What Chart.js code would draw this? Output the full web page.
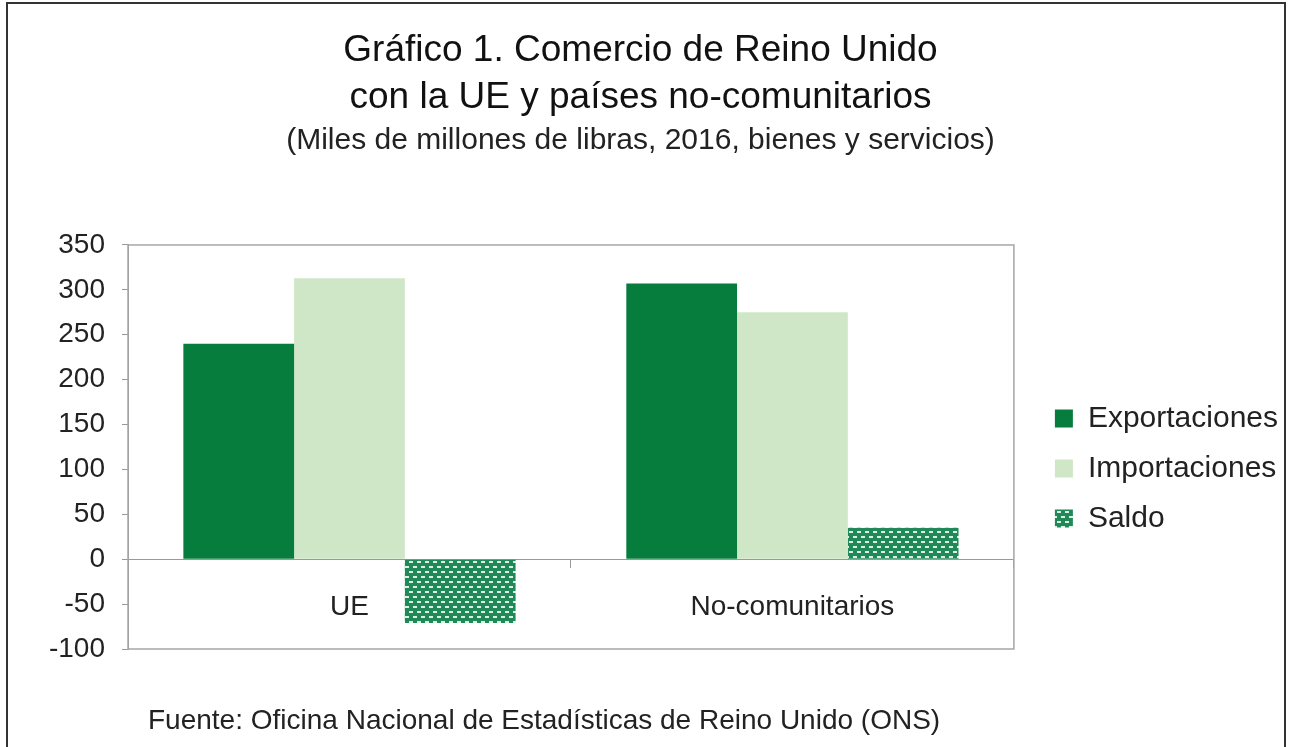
<!DOCTYPE html>
<html>
<head>
<meta charset="utf-8">
<script src="https://cdn.jsdelivr.net/npm/chart.js@4.4.0/dist/chart.umd.min.js"></script>
<style>
body { margin: 0; background: #fff; }
.marco { position: absolute; left: 6px; top: 2px; width: 1280px; height: 800px; border: 2px solid #333; box-sizing: border-box; }
.zona { position: absolute; left: 0; top: 0; width: 1290px; height: 747px; }
.fuente { position: absolute; left: 148px; top: 704px; font: 28px 'Liberation Sans', Arial, sans-serif; color: #222; }
</style>
</head>
<body>
<div class="marco"></div>
<div class="zona"><canvas id="myChart"></canvas></div>
<div class="fuente">Fuente: Oficina Nacional de Estadísticas de Reino Unido (ONS)</div>
<script>
// datos (miles de millones de libras)
const categorias = ['UE', 'No-comunitarios'];
const exportaciones = [240, 307];
const importaciones = [313, 275];
const saldo = [-71, 35];
const yMin = -100;
const yMax = 350;
const yPaso = 50;

Chart.defaults.font.family = "'Liberation Sans', Arial, sans-serif";
Chart.defaults.color = '#222';

function patronSaldo(){
    const c = document.createElement('canvas');
    c.width = 8;
    c.height = 10;
    const ctx = c.getContext('2d');
    ctx.fillStyle = '#1f8a58';
    ctx.fillRect(0, 0, 8, 10);
    ctx.fillStyle = 'rgba(255,255,255,0.85)';
    ctx.fillRect(1, 1, 4, 2);
    ctx.fillRect(5, 6, 3, 2);
    ctx.fillRect(0, 6, 1, 2);
    return ctx.createPattern(c, 'repeat');
}

// caja gris alrededor del area del grafico
const cajaArea = {
    id: 'cajaArea',
    beforeDatasetsDraw(chart){
        const a = chart.chartArea;
        const ctx = chart.ctx;
        ctx.save();
        ctx.strokeStyle = '#a6a6a6';
        ctx.lineWidth = 1.5;
        ctx.strokeRect(a.left, a.top, a.right - a.left, a.bottom - a.top);
        ctx.restore();
    }
};

// baja la leyenda y la separa un poco del grafico
const moverLeyenda = {
    id: 'moverLeyenda',
    afterLayout(chart){
        const l = chart.legend;
        if (!l) return;
        l.left += 21;
        l.right += 21;
        l.top += 144;
        l.bottom += 144;
    }
};

new Chart(document.getElementById('myChart'), {
    type: 'bar',
    data: {
        labels: categorias,
        datasets: [
            { label: 'Exportaciones', data: exportaciones, backgroundColor: '#077d3d' },
            { label: 'Importaciones', data: importaciones, backgroundColor: '#cfe7c6' },
            { label: 'Saldo', data: saldo, backgroundColor: patronSaldo() }
        ]
    },
    options: {
        responsive: true,
        maintainAspectRatio: false,
        animation: false,
        layout: { padding: { left: 14, right: 23, top: 0, bottom: 98 } },
        datasets: { bar: { barPercentage: 1, categoryPercentage: 0.75 } },
        scales: {
            x: {
                position: { y: 0 },
                grid: { display: true, drawOnChartArea: false, offset: true, tickLength: 8, color: '#999' },
                border: { color: '#999' },
                ticks: { padding: 23, color: '#222', font: { size: 28 } }
            },
            y: {
                min: yMin,
                max: yMax,
                ticks: { stepSize: yPaso, padding: 17, color: '#222', font: { size: 28 } },
                grid: { drawOnChartArea: false, tickLength: 6, color: '#999' },
                border: { color: '#999' },
                afterFit(scale){ scale.width = 114; }
            }
        },
        plugins: {
            title: {
                display: true,
                text: ['Gráfico 1. Comercio de Reino Unido', 'con la UE y países no-comunitarios'],
                color: '#111',
                font: { size: 37, weight: 'normal', lineHeight: 1.27 },
                padding: { top: 27, bottom: 2 }
            },
            subtitle: {
                display: true,
                text: '(Miles de millones de libras, 2016, bienes y servicios)',
                color: '#222',
                font: { size: 30, lineHeight: 1.2 },
                padding: { top: 0, bottom: 86 }
            },
            legend: {
                position: 'right',
                labels: { boxWidth: 18, boxHeight: 18, color: '#222', font: { size: 30 }, padding: 20 }
            },
            tooltip: { enabled: false }
        }
    },
    plugins: [cajaArea, moverLeyenda]
});
</script>
</body>
</html>
